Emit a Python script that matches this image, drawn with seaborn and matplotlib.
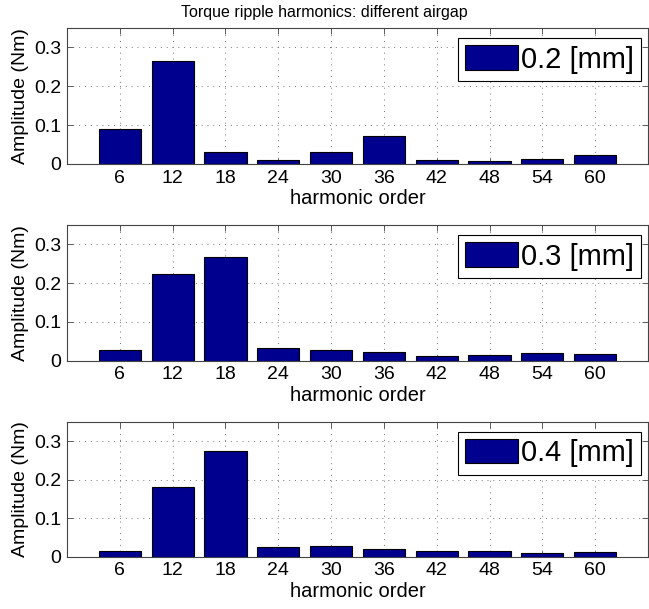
import matplotlib
matplotlib.use("Agg")
import matplotlib.pyplot as plt
import seaborn as sns
import pandas as pd

harmonics = [6, 12, 18, 24, 30, 36, 42, 48, 54, 60]
amp_02 = [0.090, 0.265, 0.030, 0.010, 0.032, 0.072, 0.010, 0.009, 0.012, 0.022]
amp_03 = [0.028, 0.224, 0.267, 0.032, 0.027, 0.022, 0.011, 0.014, 0.019, 0.016]
amp_04 = [0.014, 0.181, 0.274, 0.024, 0.029, 0.019, 0.014, 0.014, 0.009, 0.011]
labels = ["0.2 [mm]", "0.3 [mm]", "0.4 [mm]"]
series = [amp_02, amp_03, amp_04]
yticks = [0, 0.1, 0.2, 0.3]
ytick_labels = ["0", "0.1", "0.2", "0.3"]
title = "Torque ripple harmonics: different airgap"
xlabel = "harmonic order"
ylabel = "Amplitude (Nm)"

sns.set_theme(style="white")
plt.rcParams["font.family"] = ["Liberation Sans", "DejaVu Sans"]
plt.rcParams["text.color"] = "black"
plt.rcParams["axes.labelcolor"] = "black"
plt.rcParams["xtick.color"] = "black"
plt.rcParams["ytick.color"] = "black"

W, H = 649, 609
fig = plt.figure(figsize=(W / 100, H / 100), dpi=100)
bar_color = "#00008F"

panels = [(28, 164), (225, 360.7), (422, 556.7)]
left_px, right_px = 67, 648

for i, (vals, lab) in enumerate(zip(series, labels)):
    top, bot = panels[i]
    ax = fig.add_axes([left_px / W, 1 - bot / H, (right_px - left_px) / W, (bot - top) / H])
    df = pd.DataFrame({"harmonic": [str(h) for h in harmonics], "amp": vals})
    sns.barplot(data=df, x="harmonic", y="amp", ax=ax, color=bar_color,
                edgecolor="black", linewidth=0.8, width=0.8, saturation=1, label=lab)
    ax.set_xlim(-1, 10)
    ax.set_ylim(0, 0.35)
    ax.set_yticks(yticks)
    ax.set_yticklabels(ytick_labels)
    ax.set_xlabel(xlabel, fontsize=14.5, labelpad=2)
    ax.set_ylabel(ylabel, fontsize=14, labelpad=4)
    ax.tick_params(axis="both", direction="in", length=4, width=0.6, color="#444444",
                   labelcolor="black", labelsize=14, top=True, right=True,
                   bottom=True, left=True, pad=4)
    ax.grid(True, linestyle=(0, (1, 5)), color="#777777", linewidth=0.7)
    ax.set_axisbelow(True)
    for s in ax.spines.values():
        s.set_color("#444444")
        s.set_linewidth(0.8)
        s.set_visible(True)
    leg = ax.legend(loc="upper right", bbox_to_anchor=(0.988, 0.926), borderaxespad=0,
                    fontsize=21, handlelength=1.8, handleheight=0.9, handletextpad=0.1,
                    borderpad=0.25, fancybox=False, framealpha=1, edgecolor="black")
    leg.get_frame().set_linewidth(0.8)
    for t in leg.get_texts():
        t.set_color("black")

fig.text(324 / W, 1 - 17 / H, title, ha="center", va="baseline", fontsize=11.5, color="black")

fig.savefig("out.png", dpi=100)
